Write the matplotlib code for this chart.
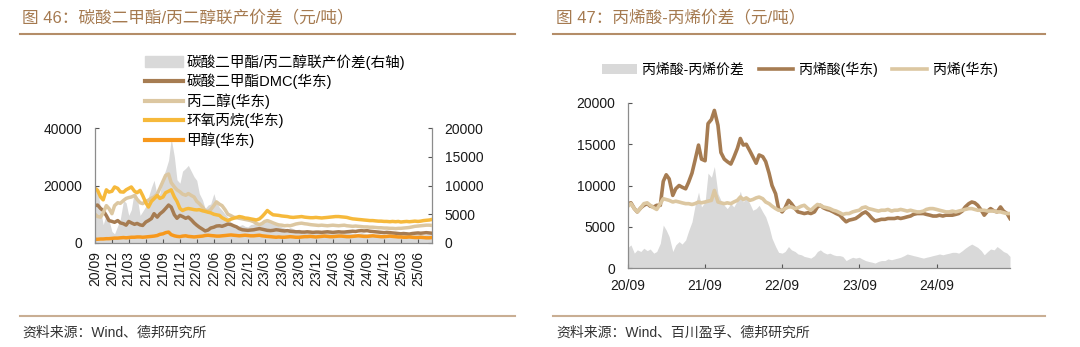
import matplotlib.pyplot as plt
import matplotlib.dates as mdates
import matplotlib.patches as mpatches
import matplotlib.lines as mlines
import pandas as pd

plt.rcParams['font.family'] = ['Liberation Sans', 'Noto Sans CJK SC']
plt.rcParams['axes.unicode_minus'] = False

# semi-monthly price series, yuan/ton (thousands below, scaled later)
dates = pd.date_range('2020-09-01', periods=120, freq='SMS')

# fig 46: DMC / propylene glycol co-production
dmc = [13.0, 13.2, 12.0, 11.3, 9.5, 7.8, 7.5, 7.2, 7.8, 7.0, 6.7, 6.2,
       7.5, 7.0, 6.5, 6.8, 6.3, 6.1, 7.3, 7.8, 8.5, 10.2, 9.0, 10.1,
       11.0, 12.0, 13.2, 12.5, 9.8, 8.6, 9.6, 9.2, 8.6, 9.0, 8.0, 7.0,
       6.2, 5.5, 4.8, 4.2, 4.5, 5.2, 5.5, 5.9, 6.0, 5.8, 6.2, 6.6,
       6.4, 6.0, 5.6, 5.0, 4.6, 4.5, 4.4, 4.5, 4.6, 4.8, 5.0, 4.8,
       4.6, 4.4, 4.3, 4.4, 4.6, 4.5, 4.3, 4.2, 4.3, 4.1, 4.0, 3.9,
       3.9, 3.8, 3.8, 3.9, 3.8, 3.7, 3.8, 3.8, 3.7, 3.8, 3.9, 3.8,
       3.7, 3.8, 3.9, 3.8, 3.8, 3.9, 4.0, 4.1, 4.0, 4.2, 4.3, 4.2,
       4.3, 4.1, 4.0, 3.9, 3.8, 3.7, 3.6, 3.7, 3.6, 3.5, 3.4, 3.3,
       3.2, 3.3, 3.2, 3.1, 3.3, 3.4, 3.5, 3.4, 3.5, 3.6, 3.5, 3.4]
pg = [10.0, 9.2, 9.0, 10.5, 13.0, 12.0, 10.2, 13.0, 14.0, 13.8, 14.8, 15.5,
      15.8, 16.0, 16.5, 15.2, 14.0, 13.7, 14.5, 14.9, 15.6, 16.0, 17.0, 19.0,
      21.5, 23.5, 24.0, 21.0, 19.5, 18.5, 17.8, 17.0, 16.6, 17.2, 16.5, 16.0,
      14.5, 13.7, 12.5, 11.3, 11.0, 11.6, 13.0, 14.3, 13.5, 13.0, 11.5, 10.0,
      9.5, 9.0, 8.8, 8.6, 8.4, 8.2, 8.0, 7.8, 7.4, 6.8, 6.4, 6.8,
      7.5, 7.8, 7.4, 7.0, 6.6, 6.3, 6.2, 6.0, 6.1, 6.0, 6.3, 6.6,
      6.8, 6.9, 6.7, 6.6, 6.4, 6.3, 6.2, 6.1, 6.2, 6.1, 6.0, 6.1,
      6.2, 6.1, 6.0, 6.1, 6.2, 6.0, 5.9, 5.8, 5.9, 5.8, 5.7, 5.6,
      5.6, 5.5, 5.5, 5.4, 5.3, 5.3, 5.2, 5.2, 5.1, 5.1, 5.0, 5.1,
      5.1, 5.2, 5.3, 5.4, 5.6, 5.8, 5.9, 6.0, 6.1, 6.2, 6.2, 6.1]
po = [19.0, 18.3, 16.0, 15.0, 18.5, 17.7, 18.0, 19.5, 19.0, 17.8, 17.7, 18.5,
      19.0, 19.5, 18.0, 17.5, 18.3, 16.5, 14.0, 12.5, 14.5, 15.4, 16.5, 15.5,
      16.0, 17.5, 18.0, 18.5, 16.0, 14.5, 12.0, 11.3, 11.8, 12.0, 11.8, 11.6,
      11.5, 11.6, 11.2, 11.0, 10.7, 10.5, 10.0, 9.8, 9.6, 8.8, 8.2, 7.8,
      8.3, 8.6, 8.9, 9.2, 9.0, 8.7, 8.6, 8.4, 8.2, 8.0, 8.4, 9.2,
      10.2, 11.3, 10.4, 9.8, 9.7, 9.6, 9.4, 9.3, 9.2, 9.0, 8.9, 9.0,
      9.1, 9.2, 9.0, 8.9, 8.8, 8.8, 8.9, 8.8, 8.7, 8.8, 8.9, 9.0,
      9.1, 9.2, 9.2, 9.1, 9.0, 8.9, 8.6, 8.4, 8.3, 8.2, 8.1, 8.0,
      7.9, 7.8, 7.8, 7.7, 7.6, 7.6, 7.5, 7.5, 7.4, 7.5, 7.4, 7.5,
      7.3, 7.4, 7.5, 7.4, 7.5, 7.6, 7.5, 7.6, 7.8, 7.9, 8.0, 8.2]
methanol = [1.3, 1.3, 1.4, 1.4, 1.5, 1.5, 1.6, 1.7, 1.7, 1.8, 1.9, 1.8,
            1.9, 2.0, 2.0, 2.1, 2.1, 2.0, 2.1, 2.2, 2.3, 2.4, 2.6, 3.0,
            3.2, 3.6, 3.8, 2.9, 2.5, 2.3, 2.2, 2.4, 2.5, 2.3, 2.2, 2.1,
            2.2, 2.3, 2.4, 2.6, 2.7, 2.6, 2.5, 2.4, 2.4, 2.5, 2.6, 2.7,
            2.8, 2.7, 2.6, 2.5, 2.6, 2.7, 2.6, 2.5, 2.5, 2.6, 2.7, 2.5,
            2.4, 2.3, 2.2, 2.1, 2.0, 2.1, 2.0, 2.0, 2.1, 2.2, 2.1, 2.0,
            2.0, 2.1, 2.2, 2.2, 2.3, 2.2, 2.1, 2.2, 2.3, 2.4, 2.3, 2.2,
            2.2, 2.3, 2.4, 2.4, 2.3, 2.2, 2.2, 2.3, 2.4, 2.5, 2.4, 2.3,
            2.3, 2.4, 2.5, 2.4, 2.3, 2.2, 2.2, 2.3, 2.4, 2.3, 2.2, 2.1,
            2.1, 2.0, 2.0, 2.1, 2.0, 1.9, 1.9, 2.0, 1.9, 1.8, 1.8, 1.9]
dmc_spread = [9.8, 9.7, 5.7, 3.2, 5.0, 4.0, 2.0, 1.6, 3.0, 4.2, 7.4, 7.0,
              4.8, 5.8, 9.2, 8.0, 4.8, 5.5, 6.4, 8.0, 9.7, 10.9, 8.2, 8.6,
              11.5, 12.7, 14.4, 18.2, 15.0, 11.0, 10.4, 12.5, 13.0, 13.5, 12.4, 11.5,
              10.9, 8.6, 7.5, 6.0, 6.6, 6.8, 8.6, 7.0, 6.2, 5.7, 5.0, 4.5,
              3.6, 3.2, 2.7, 3.0, 3.2, 2.9, 2.8, 3.2, 3.3, 3.6, 3.4, 3.8,
              3.6, 4.0, 3.5, 3.3, 3.4, 3.0, 2.8, 2.6, 2.4, 2.7, 2.5, 2.3,
              2.4, 2.2, 2.2, 2.0, 2.1, 2.2, 2.0, 1.9, 2.1, 2.0, 1.9, 1.8,
              1.9, 2.0, 1.8, 1.7, 1.8, 1.9, 1.8, 1.7, 1.6, 1.7, 1.8, 1.7,
              1.6, 1.7, 1.6, 1.5, 1.6, 1.5, 1.4, 1.5, 1.6, 1.5, 1.4, 1.5,
              1.4, 1.5, 1.6, 1.5, 1.4, 1.5, 1.6, 1.5, 1.4, 1.5, 1.6, 1.5]

# fig 47: acrylic acid vs propylene
aa = [7.8, 7.9, 7.2, 6.8, 7.3, 7.6, 7.8, 7.5, 7.4, 7.6, 7.6, 10.5,
      11.3, 10.8, 8.8, 9.6, 10.0, 9.8, 9.6, 10.4, 11.5, 13.0, 14.9, 13.2,
      13.0, 17.5, 18.0, 19.1, 17.3, 14.0, 13.2, 12.9, 12.6, 13.4, 14.5, 15.7,
      14.9, 15.0, 14.2, 13.5, 12.7, 13.7, 13.5, 12.9, 11.5, 10.0, 9.0, 7.2,
      6.8, 7.3, 8.2, 7.8, 7.2, 6.8, 6.7, 6.6, 6.7, 6.6, 6.8, 7.4,
      7.6, 7.3, 7.1, 7.0, 6.8, 6.6, 6.4, 6.0, 5.6, 5.8, 5.9, 6.0,
      6.3, 6.6, 6.8, 6.5, 6.0, 5.7, 5.8, 5.9, 5.9, 6.0, 6.0, 6.0,
      6.1, 6.0, 6.1, 6.2, 6.3, 6.5, 6.6, 6.6, 6.6, 6.5, 6.4, 6.3,
      6.3, 6.4, 6.3, 6.4, 6.4, 6.4, 6.5, 6.6, 6.9, 7.4, 7.8, 8.0,
      7.9, 7.6, 7.0, 6.4, 6.9, 7.2, 6.9, 6.8, 7.4, 6.9, 6.6, 6.0]
propylene = [7.5, 7.8, 7.2, 6.8, 7.3, 7.8, 7.9, 7.6, 7.3, 7.1, 7.8, 8.4,
             8.3, 8.2, 8.0, 8.1, 8.0, 7.9, 7.8, 7.8, 7.7, 7.8, 8.0, 7.9,
             8.0, 8.1, 8.2, 9.4, 8.0, 7.9, 7.8, 7.9, 7.8, 8.0, 8.2, 8.6,
             8.3, 8.5, 8.2, 8.3, 8.5, 8.6, 8.4, 8.0, 7.8, 7.5, 7.2, 7.0,
             7.0, 7.2, 7.4, 7.4, 7.2, 7.3, 7.5, 7.6, 7.2, 7.0, 7.4, 7.7,
             7.6, 7.4, 7.3, 7.2, 7.0, 6.9, 6.7, 6.5, 6.6, 6.6, 6.8, 6.9,
             7.0, 7.3, 7.4, 7.2, 7.1, 7.0, 6.9, 7.0, 7.0, 7.1, 6.9, 7.0,
             7.0, 7.1, 7.0, 6.9, 7.0, 6.9, 6.8, 6.8, 6.9, 7.1, 7.2, 7.2,
             7.1, 7.0, 6.9, 6.8, 6.8, 6.9, 6.8, 6.9, 7.0, 7.1, 7.2, 7.2,
             7.1, 7.0, 7.0, 7.0, 6.9, 6.9, 6.9, 6.8, 6.8, 6.7, 6.6, 6.6]
aa_spread = [2.5, 2.8, 1.8, 2.2, 2.0, 2.4, 2.1, 2.3, 1.8, 2.0, 3.0, 5.2,
             4.6, 3.8, 2.0, 2.8, 3.2, 2.9, 3.4, 4.5, 5.6, 7.5, 9.2, 7.4,
             8.0, 11.5, 11.0, 12.3, 9.0, 8.2, 7.6, 7.2, 7.8, 7.4, 8.2, 9.3,
             8.0, 8.6, 7.8, 7.0, 7.2, 7.6, 6.8, 6.2, 5.0, 3.6, 2.6, 1.9,
             1.8, 2.0, 2.6, 2.2, 2.0, 1.7, 1.6, 1.4, 1.3, 1.2, 1.5, 2.0,
             2.2, 1.9, 1.7, 1.8, 1.6, 1.5, 1.5, 1.4, 0.9, 1.1, 1.3, 1.2,
             1.3, 1.1, 0.9, 0.8, 0.7, 0.6, 0.8, 0.9, 0.9, 1.1, 1.0, 1.1,
             1.2, 1.3, 1.5, 1.7, 1.6, 1.5, 1.4, 1.3, 1.2, 1.3, 1.4, 1.5,
             1.6, 1.7, 1.6, 1.7, 1.8, 1.9, 1.9, 1.8, 2.1, 2.4, 2.7, 2.9,
             2.7, 2.5, 2.1, 1.6, 2.0, 2.3, 2.2, 2.6, 2.3, 2.0, 1.8, 1.4]


def k(vals):
    return [v * 1000 for v in vals]


BROWN = '#a67c52'
TAN = '#dcc7a1'
YELLOW = '#f6b93b'
ORANGE = '#f7981c'
GRAY = '#d9d9d9'
TITLE_C = '#a57a50'
LINE_C = '#b48d68'
AXIS_C = '#8c8c8c'

fig = plt.figure(figsize=(10.8, 3.47), dpi=100)
W, H = 1080, 347


def box(x0, y0, x1, y1):
    return [x0 / W, 1 - y1 / H, (x1 - x0) / W, (y1 - y0) / H]


def style_axis(ax):
    for s in ['top', 'right']:
        ax.spines[s].set_visible(False)
    for s in ['left', 'bottom']:
        ax.spines[s].set_color(AXIS_C)
        ax.spines[s].set_linewidth(0.9)
    ax.tick_params(direction='in', length=3, width=0.8, color='#555555',
                   labelsize=10, labelcolor='#1a1a1a', pad=9)


# ---- left: 图46 ----
ax1 = fig.add_axes(box(95, 128, 432, 243))
ax1r = ax1.twinx()
ax1r.fill_between(dates, 0, k(dmc_spread), color=GRAY, lw=0)
ax1.plot(dates, k(dmc), color=BROWN, lw=2.5)
ax1.plot(dates, k(pg), color=TAN, lw=2.5)
ax1.plot(dates, k(po), color=YELLOW, lw=2.5)
ax1.plot(dates, k(methanol), color=ORANGE, lw=2.5)
ax1.set_zorder(ax1r.get_zorder() + 1)
ax1.patch.set_visible(False)

style_axis(ax1)
ax1r.spines['top'].set_visible(False)
ax1r.spines['left'].set_visible(False)
ax1r.spines['bottom'].set_visible(False)
ax1r.spines['right'].set_color(AXIS_C)
ax1r.spines['right'].set_linewidth(0.9)
ax1r.tick_params(direction='in', length=3, width=0.8, color='#555555',
                 labelsize=10, labelcolor='#1a1a1a', pad=9)
ax1.set_ylim(0, 40000)
ax1r.set_ylim(0, 20000)
ax1.set_yticks([0, 20000, 40000])
ax1r.set_yticks([0, 5000, 10000, 15000, 20000])
ax1.set_xlim(dates[0], dates[-1])
ax1.set_xticks(pd.date_range('2020-09-01', '2025-06-01', freq='QS-MAR'))
ax1.xaxis.set_major_formatter(mdates.DateFormatter('%y/%m'))
ax1.tick_params(axis='x', rotation=90, pad=6)

h46 = [mpatches.Patch(color=GRAY, label='碳酸二甲酯/丙二醇联产价差(右轴)'),
       mlines.Line2D([], [], color=BROWN, lw=3, label='碳酸二甲酯DMC(华东)'),
       mlines.Line2D([], [], color=TAN, lw=3, label='丙二醇(华东)'),
       mlines.Line2D([], [], color=YELLOW, lw=3, label='环氧丙烷(华东)'),
       mlines.Line2D([], [], color=ORANGE, lw=3, label='甲醇(华东)')]
fig.legend(handles=h46, loc='upper left', bbox_to_anchor=(145 / W, 1 - 54 / H),
           frameon=False, fontsize=10.5, handlelength=2.6, handletextpad=0.25,
           labelspacing=0.27, borderpad=0, borderaxespad=0)

# ---- right: 图47 ----
ax2 = fig.add_axes(box(628, 103, 1010, 268))
ax2.fill_between(dates, 0, k(aa_spread), color=GRAY, lw=0, label='丙烯酸-丙烯价差')
ax2.plot(dates, k(aa), color=BROWN, lw=2.6, label='丙烯酸(华东)')
ax2.plot(dates, k(propylene), color=TAN, lw=2.6, label='丙烯(华东)')
style_axis(ax2)
ax2.set_ylim(0, 20000)
ax2.set_yticks([0, 5000, 10000, 15000, 20000])
ax2.set_xlim(dates[0], dates[-1])
ax2.set_xticks(pd.date_range('2020-09-01', '2024-09-01', freq='12MS'))
ax2.xaxis.set_major_formatter(mdates.DateFormatter('%y/%m'))
ax2.tick_params(axis='x', pad=8)
fig.legend(*ax2.get_legend_handles_labels(), loc='center left',
           bbox_to_anchor=(602 / W, 1 - 69 / H), ncol=3, frameon=False,
           fontsize=10, handlelength=2.5, handletextpad=0.4, columnspacing=1.05,
           borderpad=0, borderaxespad=0)

# titles, rules and sources
fig.text(22 / W, 1 - 17 / H, '图 46：碳酸二甲酯/丙二醇联产价差（元/吨）',
         color=TITLE_C, fontsize=12, va='center', ha='left')
fig.text(556 / W, 1 - 17 / H, '图 47：丙烯酸-丙烯价差（元/吨）',
         color=TITLE_C, fontsize=12, va='center', ha='left')
for x0, x1 in [(20, 515), (553, 1045)]:
    fig.add_artist(mlines.Line2D([x0 / W, x1 / W], [1 - 34 / H] * 2,
                                 color=LINE_C, lw=1.5))
    fig.add_artist(mlines.Line2D([x0 / W, x1 / W], [1 - 316 / H] * 2,
                                 color='#c9ae93', lw=1.5))
fig.text(22 / W, 1 - 333 / H, '资料来源：Wind、德邦研究所',
         color='#333333', fontsize=10, va='center', ha='left')
fig.text(556 / W, 1 - 333 / H, '资料来源：Wind、百川盈孚、德邦研究所',
         color='#333333', fontsize=10, va='center', ha='left')

fig.savefig('out.png', dpi=100)
